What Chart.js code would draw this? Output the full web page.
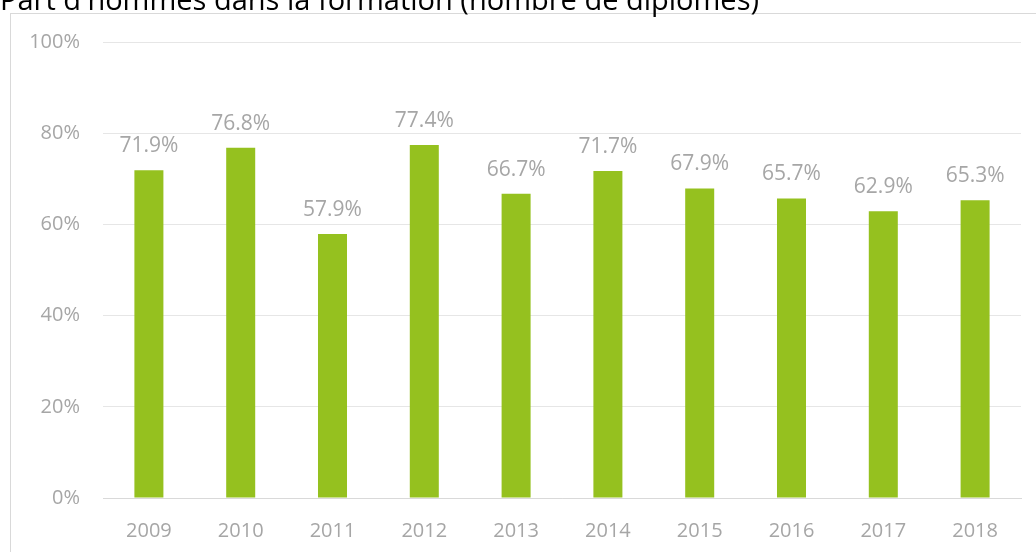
<!DOCTYPE html>
<html>
<head>
<meta charset="utf-8">
<script src="https://cdn.jsdelivr.net/npm/chart.js@4.4.0/dist/chart.umd.min.js"></script>
<style>
  html, body { margin: 0; padding: 0; background: #fff; overflow: hidden; }
  #wrap { position: relative; width: 1036px; height: 552px; }
  #title { position: absolute; left: 0; top: -16px; font-family: "Open Sans", sans-serif; font-size: 29px; line-height: 29px; color: #000; white-space: nowrap; z-index: 2; }
  #box { position: absolute; left: 10px; top: 13px; width: 1040px; height: 560px; border: 1px solid #d9d9d9; box-sizing: border-box; background: #fff; }
  canvas { position: absolute; left: 0; top: 0; z-index: 1; }
</style>
</head>
<body>
<div id="wrap">
  <div id="box"></div>
  <div id="title">Part d'hommes dans la formation (nombre de diplômés)</div>
  <canvas id="chart" width="1036" height="552"></canvas>
</div>
<script>
// données
const years = ["2009", "2010", "2011", "2012", "2013", "2014", "2015", "2016", "2017", "2018"];
const partHommes = [71.9, 76.8, 57.9, 77.4, 66.7, 71.7, 67.9, 65.7, 62.9, 65.3];
const yTicks = [0, 20, 40, 60, 80, 100];

const grey = "#a6a6a6";
const font = "Open Sans";

// étiquettes au-dessus des barres
const valueLabels = {
  id: "valueLabels",
  afterDatasetsDraw(chart) {
    const ctx = chart.ctx;
    const meta = chart.getDatasetMeta(0);
    ctx.save();
    ctx.font = "21px '" + font + "'";
    ctx.fillStyle = grey;
    ctx.textAlign = "center";
    ctx.textBaseline = "alphabetic";
    meta.data.forEach((bar, i) => {
      ctx.fillText(partHommes[i].toFixed(1) + "%", bar.x, bar.y - 18);
    });
    ctx.restore();
  }
};

new Chart(document.getElementById("chart"), {
  type: "bar",
  data: {
    labels: years,
    datasets: [{
      data: partHommes,
      backgroundColor: "#95c11f",
      categoryPercentage: 1,
      barPercentage: 0.316
    }]
  },
  options: {
    responsive: false,
    animation: false,
    layout: { padding: { top: 42, right: 15, left: 0, bottom: 0 } },
    plugins: { legend: { display: false }, tooltip: { enabled: false }, title: { display: false } },
    scales: {
      x: {
        grid: { display: false },
        border: { color: "#d9d9d9" },
        ticks: { color: grey, font: { family: font, size: 20 }, padding: 13 },
        afterFit(s) { s.height = 54; }
      },
      y: {
        min: 0,
        max: 100,
        afterBuildTicks(s) { s.ticks = yTicks.map(v => ({ value: v })); },
        grid: { color: "#e6e6e6", drawTicks: false },
        border: { display: false },
        ticks: { color: grey, font: { family: font, size: 20 }, padding: 23, callback: v => v + "%" },
        afterFit(s) { s.width = 103; }
      }
    }
  },
  plugins: [valueLabels]
});
</script>
</body>
</html>
